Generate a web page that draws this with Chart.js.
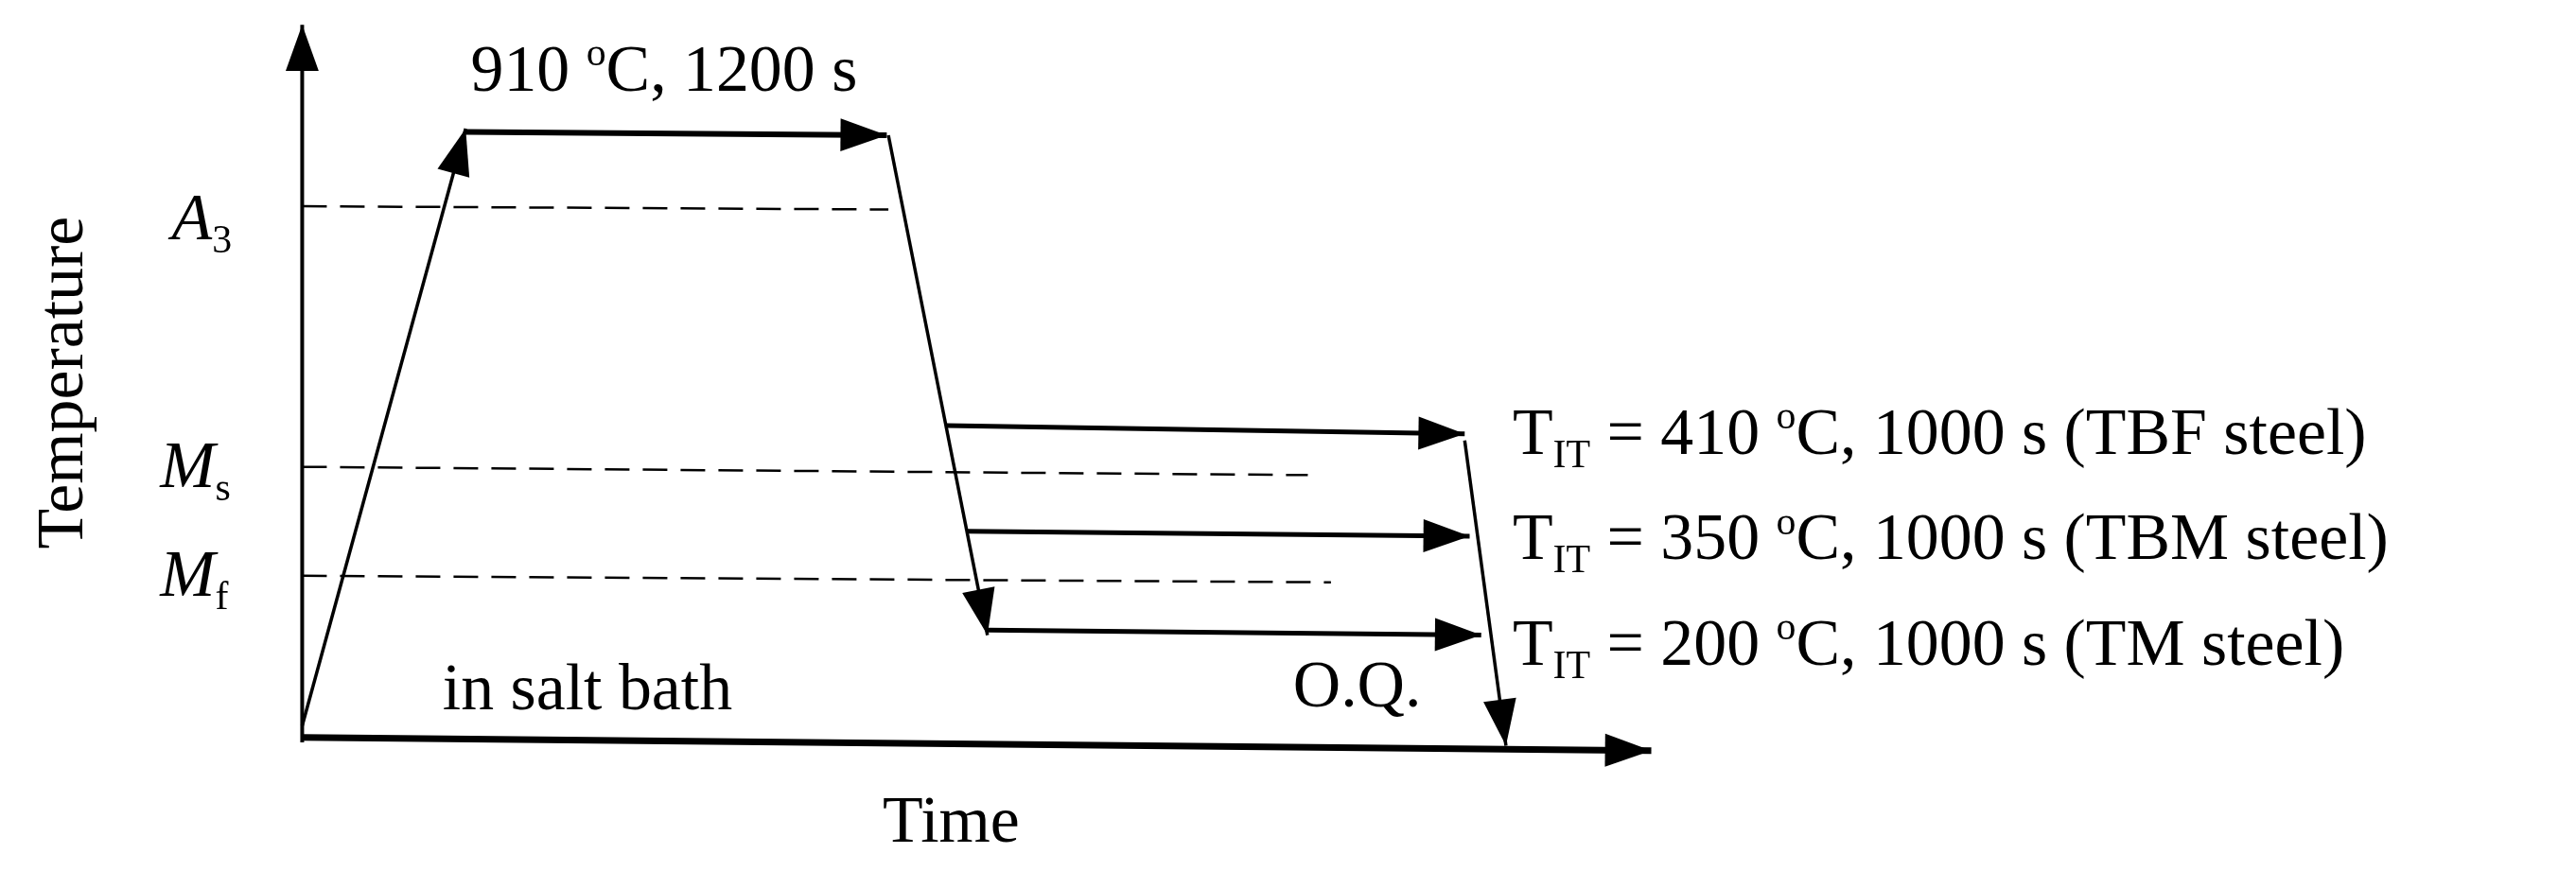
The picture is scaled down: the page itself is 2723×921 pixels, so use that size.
<!DOCTYPE html>
<html lang="en">
<head>
<meta charset="UTF-8">
<title>Heat treatment schedule</title>
<script src="https://cdn.jsdelivr.net/npm/chart.js"></script>
<style>
  html, body { margin: 0; padding: 0; background: #fff; overflow: hidden; }
  #wrap { width: 2723px; height: 921px; }
</style>
</head>
<body>
<div id="wrap"><canvas id="ht" width="2723" height="921" style="width:2723px;height:921px"></canvas></div>
<script>
// schematic time / temperature path (arbitrary diagram units, y grows downward)
const axisY = [{x: 183, y: 450}, {x: 183, y: 15}];
const axisX = [{x: 183, y: 447}, {x: 1000, y: 455}];
const heating = [{x: 183, y: 440}, {x: 282, y: 78}];
const austenitize = [{x: 282, y: 80}, {x: 537, y: 82}];
const cooling = [{x: 538, y: 82}, {x: 598, y: 385}];
const holdTBF = [{x: 573, y: 258}, {x: 887, y: 263}];
const holdTBM = [{x: 585, y: 322}, {x: 890, y: 325}];
const holdTM = [{x: 598, y: 382}, {x: 897, y: 385}];
const quench = [{x: 887, y: 267}, {x: 912, y: 452}];
const lineA3 = [{x: 183, y: 125}, {x: 538, y: 127}];
const lineMs = [{x: 183, y: 283}, {x: 792, y: 288}];
const lineMf = [{x: 183, y: 349}, {x: 806, y: 353}];
const labelsIT = ['410', '350', '200'];
const steels = ['TBF steel', 'TBM steel', 'TM steel'];
const labelRows = [275, 339, 403];

function solid(data, w, arrow) {
  return { data, showLine: true, borderColor: '#000', borderWidth: w, pointRadius: 0, arrow };
}
function dashed(data) {
  return { data, showLine: true, borderColor: '#000', borderWidth: 2.5, borderDash: [26, 14], pointRadius: 0, arrow: false };
}

const FONT = '"Liberation Serif", "Times New Roman", serif';

const annotate = {
  id: 'annotate',
  afterDatasetsDraw(chart) {
    const c = chart.ctx, sx = chart.scales.x, sy = chart.scales.y;
    const k = chart.width / 1560;
    const X = v => sx.getPixelForValue(v), Y = v => sy.getPixelForValue(v);
    c.save();
    c.fillStyle = '#000';
    // arrowheads
    chart.data.datasets.forEach(ds => {
      if (!ds.arrow) return;
      const a = ds.data[ds.data.length - 2], b = ds.data[ds.data.length - 1];
      const x1 = X(a.x), y1 = Y(a.y), x2 = X(b.x), y2 = Y(b.y);
      const ang = Math.atan2(y2 - y1, x2 - x1);
      const L = 28 * k, W = 10 * k;
      c.beginPath();
      c.moveTo(x2, y2);
      c.lineTo(x2 - L * Math.cos(ang) + W * Math.sin(ang), y2 - L * Math.sin(ang) - W * Math.cos(ang));
      c.lineTo(x2 - L * Math.cos(ang) - W * Math.sin(ang), y2 - L * Math.sin(ang) + W * Math.cos(ang));
      c.closePath();
      c.fill();
    });
    const fs = 40 * k;
    c.textBaseline = 'alphabetic';
    c.textAlign = 'left';
    // write a run of pieces: [text, kind] kind: n normal, i italic, sup, sub
    function run(x, y, parts, size) {
      let px = X(x);
      const py = Y(y);
      parts.forEach(([t, kind]) => {
        let s = size, dy = 0, st = '';
        if (kind === 'sup') { s = size * 0.6; dy = -size * 0.38; }
        if (kind === 'sub') { s = size * 0.6; dy = size * 0.2; }
        if (kind === 'i') st = 'italic ';
        c.font = st + s + 'px ' + FONT;
        c.fillText(t, px, py + dy);
        px += c.measureText(t).width;
      });
    }
    run(285, 55, [['910 ', 'n'], ['o', 'sup'], ['C, 1200 s', 'n']], fs);
    run(104, 145, [['A', 'i'], ['3', 'sub']], fs);
    run(97, 295, [['M', 'i'], ['s', 'sub']], fs);
    run(97, 361, [['M', 'i'], ['f', 'sub']], fs);
    run(268, 430, [['in salt bath', 'n']], fs);
    run(783, 428, [['O.Q.', 'n']], fs);
    for (let i = 0; i < labelsIT.length; i++) {
      run(916, labelRows[i], [['T', 'n'], ['IT', 'sub'], [' = ' + labelsIT[i] + ' ', 'n'], ['o', 'sup'],
        ['C, 1000 s (' + steels[i] + ')', 'n']], fs);
    }
    c.font = fs + 'px ' + FONT;
    c.textAlign = 'center';
    c.fillText('Time', X(576), Y(510));
    c.save();
    c.translate(X(50), Y(232));
    c.rotate(-Math.PI / 2);
    c.fillText('Temperature', 0, 0);
    c.restore();
    c.restore();
  }
};

new Chart(document.getElementById('ht'), {
  type: 'scatter',
  data: {
    datasets: [
      solid(axisY, 4, true), solid(axisX, 7, true),
      solid(heating, 3.5, true), solid(austenitize, 6, true), solid(cooling, 3.5, true),
      solid(holdTBF, 5, true), solid(holdTBM, 5, true), solid(holdTM, 5, true),
      solid(quench, 3.5, true),
      dashed(lineA3), dashed(lineMs), dashed(lineMf)
    ]
  },
  options: {
    responsive: false,
    devicePixelRatio: 1,
    animation: false,
    layout: { padding: 0 },
    plugins: { legend: { display: false }, tooltip: { enabled: false } },
    scales: {
      x: { type: 'linear', min: 0, max: 1560, display: false },
      y: { type: 'linear', min: 0, max: 528, reverse: true, display: false }
    }
  },
  plugins: [annotate]
});
</script>
</body>
</html>
